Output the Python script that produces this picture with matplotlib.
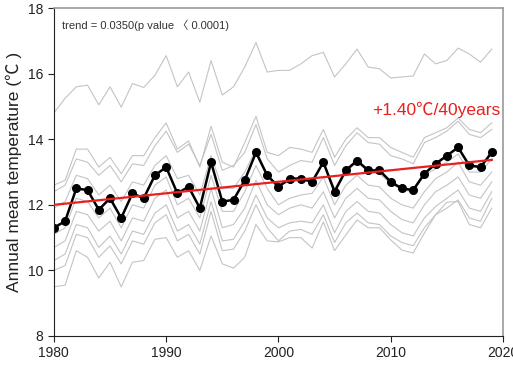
import matplotlib.pyplot as plt

# -----------------------------
# Data
# -----------------------------
years = list(range(1980, 2020))

# station mean (black)
mean_temp = [11.3, 11.5, 12.5, 12.45, 11.85, 12.2, 11.6, 12.35, 12.2, 12.9,
             13.15, 12.35, 12.55, 11.9, 13.3, 12.1, 12.15, 12.75, 13.6, 12.9,
             12.55, 12.8, 12.8, 12.7, 13.3, 12.4, 13.05, 13.35, 13.05, 13.05,
             12.7, 12.5, 12.45, 12.95, 13.25, 13.5, 13.75, 13.2, 13.15, 13.6]

# individual stations (grey)
st_top = [14.8, 15.25, 15.6, 15.65, 15.05, 15.6, 14.98, 15.7, 15.58, 15.95,
          16.55, 15.6, 16.05, 15.13, 16.4, 15.35, 15.6, 16.2, 16.95, 16.05,
          16.1, 16.1, 16.3, 16.55, 16.65, 15.9, 16.3, 16.75, 16.2, 16.15,
          15.87, 15.9, 15.93, 16.6, 16.3, 16.4, 16.78, 16.6, 16.35, 16.75]
st_1 = [12.6, 12.75, 13.7, 13.7, 13.15, 13.45, 12.95, 13.5, 13.5, 14.05,
        14.5, 13.7, 13.95, 13.15, 14.4, 13.3, 13.15, 13.9, 14.7, 13.6,
        13.5, 13.75, 13.7, 13.6, 14.3, 13.45, 14.0, 14.35, 14.05, 14.05,
        13.75, 13.6, 13.45, 14.05, 14.2, 14.35, 14.65, 14.3, 14.2, 14.5]
st_2 = [12.4, 12.6, 13.4, 13.3, 12.9, 13.2, 12.7, 13.25, 13.2, 13.8,
        14.25, 13.6, 13.85, 13.2, 14.15, 13.05, 13.2, 13.6, 14.45, 13.4,
        13.0, 13.2, 13.35, 13.3, 14.05, 13.2, 13.8, 14.2, 13.9, 13.85,
        13.5, 13.4, 13.25, 13.9, 14.05, 14.25, 14.55, 14.15, 14.05, 14.3]
st_3 = [11.9, 12.1, 12.9, 12.8, 12.3, 12.6, 12.1, 12.7, 12.6, 13.2,
        13.5, 12.8, 12.9, 12.3, 13.5, 12.5, 12.5, 13.0, 13.7, 12.9,
        12.6, 12.7, 12.75, 12.7, 13.3, 12.5, 13.0, 13.3, 13.0, 12.95,
        12.65, 12.45, 12.4, 12.9, 13.1, 13.3, 13.55, 13.0, 13.0, 13.4]
st_4 = [11.1, 11.3, 12.2, 12.1, 11.6, 11.9, 11.3, 12.0, 11.9, 12.6,
        12.85, 12.0, 12.2, 11.6, 12.9, 11.8, 11.8, 12.4, 13.2, 12.5,
        12.0, 12.2, 12.3, 12.35, 12.85, 12.0, 12.6, 12.9, 12.6, 12.55,
        12.2, 12.0, 11.9, 12.4, 12.8, 13.0, 13.3, 12.7, 12.6, 13.0]
st_5 = [10.7, 10.9, 11.8, 11.7, 11.2, 11.5, 10.9, 11.6, 11.5, 12.2,
        12.45, 11.6, 11.8, 11.2, 12.5, 11.3, 11.4, 11.9, 12.75, 12.0,
        11.7, 11.9, 12.0, 11.9, 12.4, 11.6, 12.2, 12.5, 12.2, 12.15,
        11.8, 11.55, 11.45, 12.0, 12.4, 12.6, 12.85, 12.3, 12.2, 12.7]
st_6 = [10.3, 10.5, 11.4, 11.3, 10.7, 11.05, 10.5, 11.2, 11.1, 11.75,
        12.0, 11.2, 11.4, 10.8, 12.1, 10.9, 10.95, 11.5, 12.3, 11.6,
        11.3, 11.45, 11.5, 11.45, 12.0, 11.15, 11.8, 12.1, 11.8, 11.75,
        11.4, 11.15, 11.05, 11.6, 11.95, 12.2, 12.45, 11.9, 11.8, 12.4]
st_7 = [10.0, 10.15, 11.1, 11.0, 10.4, 10.75, 10.2, 10.9, 10.8, 11.45,
        11.7, 10.9, 11.1, 10.5, 11.8, 10.6, 10.65, 11.2, 12.0, 11.3,
        10.9, 11.2, 11.25, 11.1, 11.7, 10.85, 11.45, 11.75, 11.45, 11.4,
        11.05, 10.85, 10.75, 11.3, 11.7, 11.9, 12.15, 11.6, 11.5, 12.2]
st_8 = [9.5, 9.55, 10.6, 10.4, 9.77, 10.25, 9.5, 10.25, 10.3, 10.95,
        11.0, 10.4, 10.6, 10.0, 11.05, 10.2, 10.07, 10.4, 11.4, 10.9,
        10.87, 11.0, 11.0, 10.68, 11.48, 10.6, 11.08, 11.54, 11.3, 11.3,
        10.93, 10.62, 10.53, 11.14, 11.7, 12.08, 12.1, 11.4, 11.3, 11.9]

stations = [st_top, st_1, st_2, st_3, st_4, st_5, st_6, st_7, st_8]

# linear trend (red)
trend_years = [1980, 2019]
trend_vals = [12.0, 13.37]

x_ticks = [1980, 1990, 2000, 2010, 2020]
y_ticks = [8, 10, 12, 14, 16, 18]

# -----------------------------
# Plot
# -----------------------------
plt.rcParams['font.family'] = ['Liberation Sans', 'Noto Sans CJK KR', 'DejaVu Sans']

fig = plt.figure(figsize=(5.13, 3.68), dpi=100)
ax = fig.add_axes([0.105, 0.087, 0.8755, 0.891])

for st in stations:
    ax.plot(years, st, color="#c4c4c4", lw=0.8, zorder=1)

ax.plot(trend_years, trend_vals, color="#e8201e", lw=1.6, zorder=3)
ax.plot(years, mean_temp, color="black", lw=1.8, marker="o", ms=5.5, zorder=2)

ax.set_xlim(1980, 2020)
ax.set_ylim(8, 18)
ax.set_xticks(x_ticks)
ax.set_yticks(y_ticks)
ax.tick_params(direction="out", length=4, labelsize=10, colors="#222222")

for s in ["top", "right"]:
    ax.spines[s].set_color("#999999")
    ax.spines[s].set_linewidth(1.2)
ax.spines["left"].set_color("#222222")
ax.spines["bottom"].set_color("#222222")

ax.set_ylabel("Annual mean temperature (℃ )", fontsize=12.5, color="#222222",
              labelpad=4)

ax.text(0.018, 0.965, "trend = 0.0350(p value 〈 0.0001)", transform=ax.transAxes,
        fontsize=8, va="top", ha="left", color="#333333")
ax.text(2019.8, 14.9, "+1.40℃/40years", fontsize=12.5, color="#e8201e",
        ha="right", va="center")

fig.savefig("out.png", dpi=100)
